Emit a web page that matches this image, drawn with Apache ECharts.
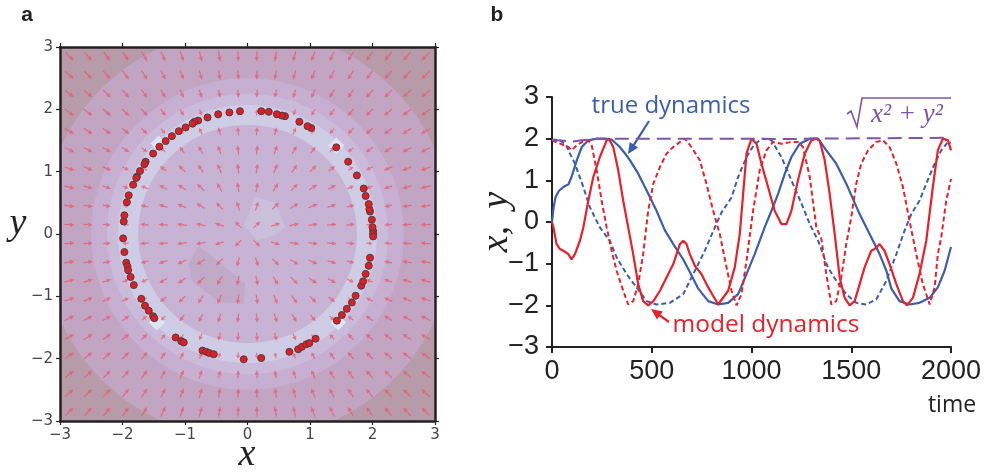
<!DOCTYPE html>
<html><head><meta charset="utf-8">
<script src="https://cdn.jsdelivr.net/npm/echarts@6/dist/echarts.min.js"></script>
<style>html,body{margin:0;padding:0;background:#fff}#c{width:985px;height:472px}</style>
</head><body><div id="c"></div>
<script>
// ---------- panel a data ----------
const fieldGrid = [-2.85,-2.55,-2.25,-1.95,-1.65,-1.35,-1.05,-0.75,-0.45,-0.15,0.15,0.45,0.75,1.05,1.35,1.65,1.95,2.25,2.55,2.85];
const arrowRadius = [0, 1.0, 1.6, 1.9, 2.0, 2.1, 2.4, 3.0, 4.1];
const arrowLength = [9, 10, 9, 6.5, 5.5, 6.5, 9, 10.5, 11.5];
const ringRadius = [4.5, 3.3, 2.5, 2.25, 2.07, 1.75];
const ringColor  = ['#b89ba9', '#c2a5c3', '#c6afd0', '#cabbda', '#cfcde6', '#c7b4d4'];
const centerPatch = [[0.02,0.32],[0.12,0.59],[0.44,0.51],[0.60,0.11],[0.42,-0.03],[0.15,-0.11],[-0.06,0.16]];
const darkPatch = [[-0.78,-0.19],[-0.94,-0.48],[-0.89,-0.75],[-0.46,-1.09],[-0.06,-1.12],[-0.04,-0.80],[-0.22,-0.64],[-0.49,-0.43]];
const lightSpots = [[-1.45,-1.42],[-1.42,1.45],[1.42,1.42],[1.45,-1.42]];
const samplePoints = [
 [2.01,0.05],[2.01,0.00],[2.01,-0.04],[2.00,0.11],[1.99,0.23],[1.96,0.36],[1.95,0.40],[1.94,0.48],[1.89,0.61],[1.86,0.73],
 [1.75,0.94],[1.61,1.16],[1.42,1.39],[1.02,1.70],[0.96,1.73],[0.83,1.80],[0.60,1.89],[0.55,1.90],[0.47,1.92],[0.34,1.96],
 [0.22,1.97],[-0.12,1.97],[-0.29,1.95],[-0.47,1.92],[-0.64,1.87],[-0.79,1.82],[-0.85,1.80],[-0.88,1.77],[-0.99,1.71],[-1.10,1.65],
 [-1.21,1.57],[-1.31,1.49],[-1.41,1.40],[-1.51,1.29],[-1.63,1.16],[-1.65,1.12],[-1.72,1.01],[-1.77,0.92],[-1.78,0.90],[-1.83,0.79],
 [-1.90,0.62],[-1.93,0.51],[-1.97,0.30],[-1.98,0.20],[-1.99,-0.07],[-1.97,-0.29],[-1.94,-0.46],[-1.92,-0.52],[-1.91,-0.58],[-1.87,-0.69],
 [-1.82,-0.82],[-1.70,-1.04],[-1.64,-1.15],[-1.58,-1.23],[-1.51,-1.32],[-1.49,-1.35],[-1.15,-1.66],[-1.06,-1.72],[-1.02,-1.74],[-0.72,-1.87],
 [-0.66,-1.89],[-0.61,-1.91],[-0.54,-1.93],[-0.06,-2.01],[0.22,-1.99],[0.67,-1.89],[0.81,-1.85],[0.87,-1.81],[0.94,-1.77],[0.99,-1.75],
 [1.09,-1.68],[1.43,-1.39],[1.51,-1.30],[1.59,-1.20],[1.67,-1.10],[1.73,-0.99],[1.82,-0.83],[1.85,-0.76],[1.89,-0.64],[1.94,-0.51],[1.96,-0.38]
];

// ---------- panel b data (time, value) ----------
const trueX = [[0,0.0],[8,0.35],[18,0.6],[35,0.75],[60,0.85],[82,0.9],[98,1.08],[124,1.48],[149,1.8],[182,1.96],[224,2.0],[260,2.0],[299,1.98],[340,1.8],[370,1.62],[391,1.48],[432,1.16],[474,0.76],[524,0.27],[566,-0.2],[608,-0.53],[658,-0.9],[691,-1.2],[733,-1.6],[783,-1.9],[833,-1.98],[883,-1.94],[933,-1.73],[975,-1.25],[1016,-0.77],[1066,-0.13],[1100,0.27],[1133,0.67],[1167,1.16],[1200,1.56],[1242,1.88],[1292,2.0],[1334,2.0],[1375,1.72],[1425,1.4],[1475,0.92],[1509,0.55],[1542,0.19],[1592,-0.29],[1642,-0.77],[1676,-1.17],[1701,-1.6],[1742,-1.9],[1792,-1.98],[1842,-1.94],[1893,-1.82],[1934,-1.57],[1968,-1.17],[2000,-0.6]];
const trueY = [[0,1.98],[40,1.96],[70,1.85],[90,1.64],[115,1.4],[157,0.84],[190,0.35],[240,-0.13],[290,-0.45],[324,-0.85],[374,-1.25],[424,-1.57],[474,-1.9],[524,-1.98],[591,-1.94],[658,-1.73],[716,-1.17],[766,-0.69],[816,-0.13],[850,0.23],[900,0.59],[933,1.08],[975,1.56],[1016,1.88],[1058,2.0],[1100,1.96],[1150,1.56],[1200,1.0],[1250,0.45],[1292,-0.05],[1334,-0.45],[1383,-1.09],[1425,-1.41],[1475,-1.73],[1525,-1.94],[1575,-1.98],[1625,-1.86],[1676,-1.41],[1726,-0.77],[1767,-0.21],[1801,0.19],[1842,0.51],[1876,0.92],[1918,1.4],[1951,1.72],[1985,1.92],[2000,1.9]];
const modelX = [[0,0.0],[7,-0.13],[23,-0.53],[40,-0.65],[57,-0.69],[82,-0.77],[98,-0.9],[115,-0.77],[140,-0.45],[157,-0.13],[182,0.51],[207,1.08],[240,1.56],[274,1.96],[285,2.0],[307,1.8],[332,1.24],[357,0.51],[382,-0.13],[407,-0.77],[432,-1.49],[457,-1.9],[482,-2.0],[508,-1.9],[541,-1.65],[574,-1.33],[608,-1.01],[641,-0.53],[658,-0.45],[674,-0.53],[691,-0.77],[716,-1.05],[749,-1.25],[783,-1.57],[833,-1.98],[883,-1.65],[916,-1.09],[941,-0.29],[958,0.67],[975,1.64],[1000,2.0],[1025,1.88],[1050,1.4],[1083,0.84],[1116,0.27],[1150,-0.05],[1175,-0.05],[1200,0.27],[1233,1.0],[1267,1.64],[1300,1.96],[1325,2.0],[1342,1.95],[1367,1.48],[1392,0.67],[1417,-0.29],[1442,-1.33],[1467,-1.82],[1492,-2.0],[1517,-1.9],[1542,-1.49],[1567,-1.09],[1600,-0.69],[1617,-0.65],[1642,-0.53],[1667,-0.69],[1692,-1.01],[1726,-1.49],[1759,-1.9],[1779,-2.0],[1809,-1.82],[1842,-1.25],[1876,-0.45],[1909,0.84],[1934,1.72],[1959,2.0],[1985,1.96],[2000,1.72]];
const modelY = [[0,1.96],[40,1.88],[82,1.8],[98,1.72],[124,1.84],[157,1.94],[182,1.96],[199,1.84],[224,1.24],[249,0.51],[274,-0.13],[299,-0.69],[324,-1.17],[357,-1.65],[382,-1.98],[407,-1.9],[432,-1.49],[457,-0.77],[482,0.27],[508,0.92],[541,1.32],[574,1.64],[608,1.8],[641,1.92],[666,2.0],[699,1.8],[741,1.48],[774,0.92],[808,0.27],[841,-0.29],[875,-1.09],[900,-1.65],[925,-2.0],[950,-1.73],[975,-0.93],[1008,0.27],[1041,1.24],[1075,1.72],[1108,1.92],[1150,1.88],[1200,1.92],[1233,1.92],[1258,1.8],[1292,1.08],[1325,-0.13],[1350,-0.4],[1375,-1.25],[1400,-1.98],[1425,-1.9],[1450,-1.33],[1475,-0.53],[1500,0.11],[1525,0.92],[1550,1.4],[1584,1.72],[1625,1.92],[1659,1.96],[1692,1.8],[1726,1.4],[1759,0.84],[1792,0.03],[1826,-0.77],[1859,-1.49],[1893,-1.98],[1918,-1.57],[1934,-0.77],[1951,-0.37],[1976,0.51],[2000,1.03]];
const radiusTrue = [[0,1.97],[60,1.95],[100,1.93],[150,1.96],[200,1.99],[300,2.0],[600,2.0],[1000,2.0],[1200,1.99],[1300,2.0],[1600,2.01],[2000,2.02]];

// ---------- helpers ----------
function lerp(xs, ys, v){
  if (v <= xs[0]) return ys[0];
  for (let i = 1; i < xs.length; i++) {
    if (v <= xs[i]) { const f = (v - xs[i-1]) / (xs[i] - xs[i-1]); return ys[i-1] + f * (ys[i] - ys[i-1]); }
  }
  return ys[ys.length - 1];
}
const clamp3 = v => Math.max(-3, Math.min(3, v));
const minus = v => String(v).replace('-', '\u2212');

const fieldData = [];
fieldGrid.forEach(x => fieldGrid.forEach(y => fieldData.push([x, y])));

function renderRing(params, api){
  const r = api.value(0), idx = api.value(1);
  const pts = [];
  for (let a = 0; a < 360; a += 2) {
    const t = a * Math.PI / 180;
    pts.push(api.coord([clamp3(r * Math.cos(t)), clamp3(r * Math.sin(t))]));
  }
  return {type: 'polygon', shape: {points: pts}, style: {fill: ringColor[idx]}};
}
function renderPatches(params, api){
  const i = params.dataIndex;
  if (i === 0) return {type:'polygon', shape:{points: centerPatch.map(p => api.coord(p))}, style:{fill:'#cbc0dc'}};
  if (i === 1) return {type:'polygon', shape:{points: darkPatch.map(p => api.coord(p))}, style:{fill:'#c1a9c8'}};
  const c = lightSpots[i - 2], d = 0.13;
  const pts = [[c[0]-d,c[1]],[c[0],c[1]+d],[c[0]+d,c[1]],[c[0],c[1]-d]].map(p => api.coord(p));
  return {type:'polygon', shape:{points: pts}, style:{fill:'#dce6f3'}};
}
function renderArrow(params, api){
  const x = api.value(0), y = api.value(1);
  const r = Math.hypot(x, y);
  const s = r < 2 ? 1 : -1;
  const ux = s * x / r, uy = -s * y / r; // pixel space
  const L = lerp(arrowRadius, arrowLength, r);
  const c = api.coord([x, y]);
  const x0 = c[0] - ux * L / 2, y0 = c[1] - uy * L / 2;
  const x1 = c[0] + ux * L / 2, y1 = c[1] + uy * L / 2;
  const hl = Math.min(4.5, L * 0.55), hw = 2.2;
  const bx = x1 - ux * hl, by = y1 - uy * hl;
  const px = -uy, py = ux;
  const col = 'rgba(234,88,104,0.75)';
  return {type:'group', children:[
    {type:'line', shape:{x1:x0, y1:y0, x2:bx, y2:by}, style:{stroke:col, lineWidth:1.2}},
    {type:'polygon', shape:{points:[[x1,y1],[bx+px*hw,by+py*hw],[bx-px*hw,by-py*hw]]}, style:{fill:col}}
  ]};
}

function arrowHead(x0, y0, x1, y1, color){
  const dx = x1 - x0, dy = y1 - y0, l = Math.hypot(dx, dy);
  const ux = dx / l, uy = dy / l, hl = 11, hw = 5;
  const bx = x1 - ux * hl, by = y1 - uy * hl;
  return [
    {type:'line', shape:{x1:x0, y1:y0, x2:bx + ux*2, y2:by + uy*2}, style:{stroke:color, lineWidth:2.2}},
    {type:'polygon', shape:{points:[[x1,y1],[bx - uy*hw, by + ux*hw],[bx + uy*hw, by - ux*hw]]}, style:{fill:color}}
  ];
}

const axA = {
  min:-3, max:3, interval:1, z:10,
  axisLine:{show:true, onZero:false, lineStyle:{color:'#222', width:2.5}},
  axisTick:{show:true, inside:false, length:4, lineStyle:{color:'#222', width:1.2}},
  splitLine:{show:false}
};
const labA = {show:true, fontSize:15, color:'#444', fontFamily:'DejaVu Sans', margin:7, formatter:minus};
const txt = (x, y, text, font, fill, rot) => ({type:'text', x, y, rotation: rot || 0,
  style:{text, font, fill, align:'center', verticalAlign:'middle', textAlign:'center', textVerticalAlign:'middle'}});

const chart = echarts.init(document.getElementById('c'));
chart.setOption({
  animation:false,
  backgroundColor:'#fff',
  grid:[
    {left:60, top:47, width:375, height:374},
    {left:552, top:97, width:399, height:250}
  ],
  xAxis:[
    Object.assign({}, axA, {gridIndex:0, type:'value', position:'bottom', axisLabel:labA}),
    Object.assign({}, axA, {gridIndex:0, type:'value', position:'top', axisLabel:{show:false}}),
    {gridIndex:1, type:'value', min:0, max:2000, interval:500, position:'bottom',
     axisLine:{show:true, onZero:false, lineStyle:{color:'#222', width:2}},
     axisTick:{show:true, length:6, lineStyle:{color:'#222', width:2}},
     axisLabel:{fontSize:27, color:'#222', fontFamily:'Liberation Sans', margin:11, formatter: v => String(v)},
     splitLine:{show:false}}
  ],
  yAxis:[
    Object.assign({}, axA, {gridIndex:0, type:'value', position:'left', axisLabel:labA}),
    Object.assign({}, axA, {gridIndex:0, type:'value', position:'right', axisLabel:{show:false}}),
    {gridIndex:1, type:'value', min:-3, max:3, interval:1, position:'left',
     axisLine:{show:true, onZero:false, lineStyle:{color:'#222', width:2}},
     axisTick:{show:true, length:6, lineStyle:{color:'#222', width:2}},
     axisLabel:{fontSize:27, color:'#222', fontFamily:'Liberation Sans', margin:13, formatter:minus},
     splitLine:{show:false}}
  ],
  series:[
    {type:'custom', xAxisIndex:0, yAxisIndex:0, silent:true, z:1,
     data: ringRadius.map((r, i) => [r, i]), renderItem: renderRing},
    {type:'custom', xAxisIndex:0, yAxisIndex:0, silent:true, z:1,
     data: [0, 1].concat(lightSpots.map((_, i) => i + 2)).map(v => [v, v]), renderItem: renderPatches},
    {type:'custom', xAxisIndex:0, yAxisIndex:0, silent:true, z:2,
     data: fieldData, renderItem: renderArrow},
    {type:'scatter', xAxisIndex:0, yAxisIndex:0, silent:true, z:3, data: samplePoints,
     symbolSize:7, itemStyle:{color:'#e31b23', borderColor:'#4a4040', borderWidth:1, opacity:1}},
    {type:'line', xAxisIndex:2, yAxisIndex:2, data:trueY, showSymbol:false, silent:true,
     lineStyle:{color:'#3b5db0', width:2, type:[5,3]}},
    {type:'line', xAxisIndex:2, yAxisIndex:2, data:trueX, showSymbol:false, silent:true,
     lineStyle:{color:'#3b5db0', width:2.2}},
    {type:'line', xAxisIndex:2, yAxisIndex:2, data:modelY, showSymbol:false, silent:true,
     lineStyle:{color:'#e8202a', width:2, type:[5,3]}},
    {type:'line', xAxisIndex:2, yAxisIndex:2, data:modelX, showSymbol:false, silent:true,
     lineStyle:{color:'#e8202a', width:2.2}},
    {type:'line', xAxisIndex:2, yAxisIndex:2, data:radiusTrue, showSymbol:false, silent:true,
     lineStyle:{color:'#7d55a8', width:2, type:[14,7]}}
  ],
  graphic:[
    txt(27, 15, 'a', 'bold 21px "Liberation Sans"', '#222'),
    txt(497, 15, 'b', 'bold 21px "Liberation Sans"', '#222'),
    txt(247, 455, 'x', 'italic 38px "Liberation Serif"', '#222'),
    txt(18, 224, 'y', 'italic 38px "Liberation Serif"', '#222'),
    txt(497, 222, 'x,\u2009 y', 'italic 38px "Liberation Serif"', '#222', Math.PI/2),
    txt(952, 405, 'time', '23px "Open Sans"', '#222'),
    txt(671, 106, 'true dynamics', '24px "Open Sans"', '#3b5db0'),
    txt(766, 325, 'model dynamics', '24.5px "Open Sans"', '#e8202a'),
    {type:'group', children: arrowHead(649, 121, 628, 154, '#3b5db0')},
    {type:'group', children: arrowHead(669, 322, 651, 309, '#e8202a')},
    {type:'polyline', shape:{points:[[847,114],[851,111],[857,127],[862,98],[951,98]]}, style:{stroke:'#7d55a8', lineWidth:1.6, fill:null}},
    txt(907, 115, 'x\u00b2 + y\u00b2', 'italic 27px "Liberation Serif"', '#7d55a8')
  ]
});
</script>
</body></html>
